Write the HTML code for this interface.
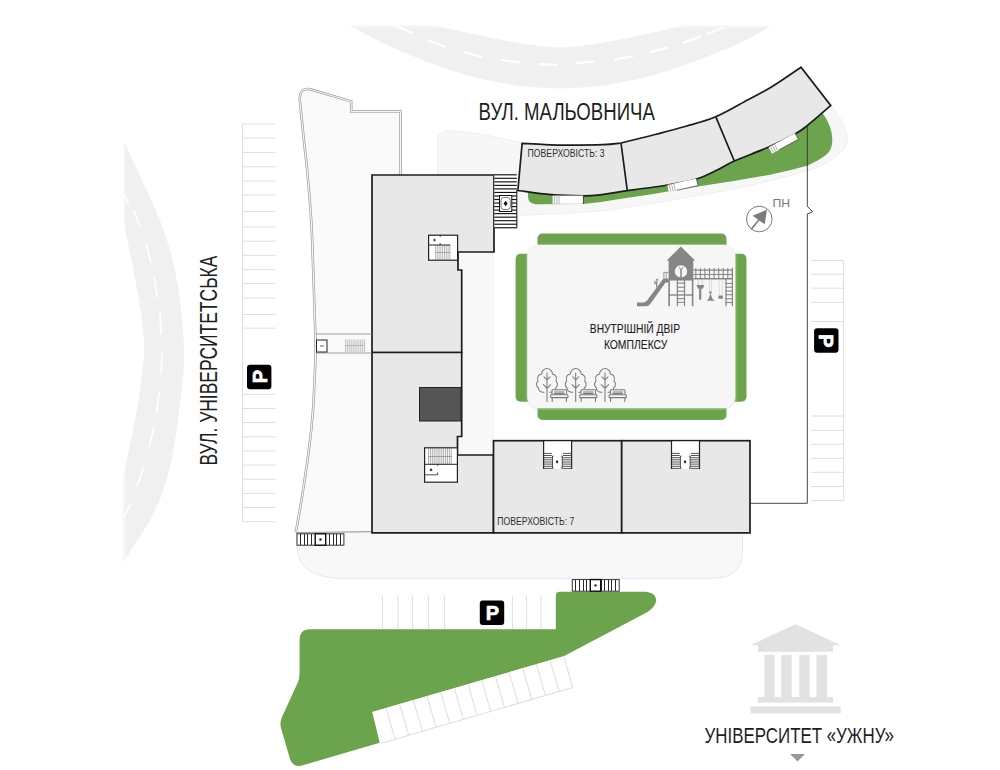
<!DOCTYPE html>
<html lang="uk"><head><meta charset="utf-8"><title>План комплексу</title>
<style>
html,body{margin:0;padding:0;background:#fff;}
body{width:1000px;height:770px;overflow:hidden;font-family:"Liberation Sans",sans-serif;}
svg{display:block}
text{font-family:"Liberation Sans",sans-serif;}
</style></head><body>
<svg width="1000" height="770" viewBox="0 0 1000 770">
<defs>
<filter id="soft" x="-5%" y="-5%" width="110%" height="110%"><feGaussianBlur stdDeviation="1.2"/></filter>
<filter id="soft2" x="-5%" y="-5%" width="110%" height="110%"><feGaussianBlur stdDeviation="0.6"/></filter>
<linearGradient id="fadeL" x1="0" x2="1" y1="0" y2="0"><stop offset="0" stop-color="#fff" stop-opacity="1"/><stop offset="1" stop-color="#fff" stop-opacity="0"/></linearGradient>
<linearGradient id="fadeT" x1="0" x2="0" y1="0" y2="1"><stop offset="0" stop-color="#fff" stop-opacity="1"/><stop offset="1" stop-color="#fff" stop-opacity="0"/></linearGradient>
</defs>
<rect width="1000" height="770" fill="#fff"/>

<g id="roads">
<path d="M123.7,141.4 C126.2,146.7 133.3,161.5 138.6,172.9 C143.9,184.3 150.5,197.2 155.7,210.0 C160.9,222.8 166.2,236.7 170.0,250.0 C173.8,263.3 176.4,276.7 178.6,290.0 C180.8,303.3 182.0,320.0 182.9,330.0 C183.8,340.0 183.9,343.3 184.0,350.0 C184.1,356.7 184.1,361.7 183.5,370.0 C182.9,378.3 181.8,390.0 180.6,400.0 C179.4,410.0 178.0,420.1 176.5,430.0 C175.0,439.9 174.1,448.9 171.7,459.5 C169.3,470.1 165.5,483.7 162.0,493.6 C158.5,503.5 154.9,511.3 150.8,519.0 C146.7,526.7 142.1,532.5 137.4,540.0 C132.7,547.5 124.9,560.0 122.4,564.0 L122.4,478 C123.2,474.9 125.1,467.5 126.9,459.5 C128.7,451.5 131.1,439.9 133.0,430.0 C134.9,420.1 137.0,410.0 138.6,400.0 C140.2,390.0 141.6,378.3 142.5,370.0 C143.4,361.7 144.5,359.1 144.3,350.0 C144.1,340.9 143.3,329.5 141.4,315.7 C139.5,301.9 135.8,282.3 132.9,267.0 C130.0,251.7 125.2,231.2 123.7,224.0 Z" fill="#f0f0f0"/>
<rect x="120" y="138" width="7" height="432" fill="url(#fadeL)"/>
<rect x="-5.0" y="-0.8" width="10" height="1.6" fill="#fff" transform="translate(126.5,199) rotate(-113)"/>
<rect x="-9.0" y="-0.8" width="18" height="1.6" fill="#fff" transform="translate(137,218.6) rotate(-110)"/>
<rect x="-10.0" y="-0.8" width="20" height="1.6" fill="#fff" transform="translate(148.6,252.9) rotate(-105)"/>
<rect x="-10.5" y="-0.8" width="21" height="1.6" fill="#fff" transform="translate(155.7,287) rotate(-99)"/>
<rect x="-11.0" y="-0.8" width="22" height="1.6" fill="#fff" transform="translate(160.5,323.5) rotate(-93)"/>
<rect x="-11.0" y="-0.8" width="22" height="1.6" fill="#fff" transform="translate(161.5,363.5) rotate(-88)"/>
<rect x="-11.0" y="-0.8" width="22" height="1.6" fill="#fff" transform="translate(158,402) rotate(-83)"/>
<rect x="-10.5" y="-0.8" width="21" height="1.6" fill="#fff" transform="translate(151.5,437.4) rotate(-76)"/>
<rect x="-10.0" y="-0.8" width="20" height="1.6" fill="#fff" transform="translate(140.2,477.2) rotate(-70)"/>
<rect x="-8.0" y="-0.8" width="16" height="1.6" fill="#fff" transform="translate(127.5,510) rotate(-64)"/>
<path d="M348.8,25 C354.7,28.1 370.8,37.4 384.0,43.6 C397.2,49.8 413.3,56.8 428.0,62.3 C442.7,67.8 457.3,72.8 472.0,76.6 C486.7,80.4 501.3,83.5 516.0,85.4 C530.7,87.3 545.3,88.2 560.0,88.2 C574.7,88.2 589.3,87.3 604.0,85.4 C618.7,83.5 633.3,80.4 648.0,76.6 C662.7,72.8 677.3,67.6 692.0,62.3 C706.7,57.0 722.8,50.8 736.0,44.7 C749.2,38.7 765.2,29.1 771.0,26.0 L685,25 C678.8,26.4 661.5,30.8 648.0,33.7 C634.5,36.6 618.7,40.2 604.0,42.5 C589.3,44.8 574.7,47.5 560.0,47.5 C545.3,47.5 530.7,44.8 516.0,42.5 C501.3,40.2 485.9,36.6 472.0,33.7 C458.1,30.8 439.0,26.4 432.4,25.0 Z" fill="#f0f0f0"/>
<rect x="345" y="22" width="430" height="7" fill="url(#fadeT)"/>
<rect x="-9.5" y="-1.1" width="19" height="2.2" fill="#fff" transform="translate(403.8,29.3) rotate(24)"/>
<rect x="-9.5" y="-1.1" width="19" height="2.2" fill="#fff" transform="translate(436.8,43.6) rotate(21)"/>
<rect x="-9.5" y="-1.1" width="19" height="2.2" fill="#fff" transform="translate(473,54.6) rotate(15)"/>
<rect x="-9.5" y="-1.1" width="19" height="2.2" fill="#fff" transform="translate(510.5,61.2) rotate(8)"/>
<rect x="-9.5" y="-1.1" width="19" height="2.2" fill="#fff" transform="translate(548,64.5) rotate(2)"/>
<rect x="-9.5" y="-1.1" width="19" height="2.2" fill="#fff" transform="translate(585.3,62.3) rotate(-5)"/>
<rect x="-9.5" y="-1.1" width="19" height="2.2" fill="#fff" transform="translate(623.8,57.9) rotate(-10)"/>
<rect x="-9.5" y="-1.1" width="19" height="2.2" fill="#fff" transform="translate(659,49.8) rotate(-16)"/>
<rect x="-9.5" y="-1.1" width="19" height="2.2" fill="#fff" transform="translate(692,39.6) rotate(-20)"/>
<rect x="-9.5" y="-1.1" width="19" height="2.2" fill="#fff" transform="translate(716,30.5) rotate(-22)"/>
</g>
<g id="zones">
<path d="M437.5,180 L437.5,142 Q437.5,131 448,131 C465,131 490,135 522,143 L621,150 L716,125 L801,80 L830.6,105.8 C836,110 843,122 847.5,135.7 C848,146 842,152 836.6,156 C825,165 812,170 803,172 C780,178.5 760,183.5 738,188 C710,193.5 685,198 660,202.3 C630,207 605,211 590,211.8 C565,213.5 540,214.5 518,215.4 L518,228 L494,228 L494,180 Z" fill="#f7f7f7" stroke="#ececec" stroke-width="0.8"/>
<path d="M299.8,100 Q299.5,86.5 311,89.5 L351.2,101.4 L351.2,111.6 L400.6,111.6 L400.6,176 L372,176 L372,532.5 L295.8,532.5 C296.9,526.2 300.0,509.6 302.3,495.0 C304.6,480.4 307.7,459.2 309.5,445.0 C311.3,430.8 312.1,422.5 313.0,410.0 C313.9,397.5 314.6,379.7 315.0,370.0 C315.4,360.3 315.6,358.2 315.6,352.0 C315.7,345.8 315.6,344.2 315.3,333.0 C315.0,321.8 314.2,301.3 313.7,285.0 C313.1,268.7 312.6,248.6 312.0,235.0 C311.4,221.4 310.8,214.1 310.0,203.2 C309.2,192.3 308.2,180.8 307.1,169.5 C306.0,158.2 304.6,147.3 303.4,135.7 C302.2,124.1 300.4,106.0 299.8,100.0 Z" fill="#fafafa"/>
<path d="M296.5,532.5 L742.5,532.5 L742.5,548 C742.5,570 735,578.3 708,578.3 L342,578.3 C312,578.3 298,566 297.2,548 Z" fill="#f8f8f8" stroke="#e4e4e4" stroke-width="0.9"/>
<rect x="458" y="252" width="35" height="203" fill="#f8f8f8"/><path d="M493,252 V441" stroke="#ededed" stroke-width="0.8"/>
</g>
<path d="M400.6,175 L400.6,111.6 L351.2,111.6 L351.2,101.4 L311,89.5 Q299.5,86.5 299.8,100 C300.4,106.0 302.2,124.1 303.4,135.7 C304.6,147.3 306.0,158.2 307.1,169.5 C308.2,180.8 309.2,192.3 310.0,203.2 C310.8,214.1 311.4,221.4 312.0,235.0 C312.6,248.6 313.1,268.7 313.7,285.0 C314.2,301.3 315.0,321.8 315.3,333.0 C315.6,344.2 315.7,345.8 315.6,352.0 C315.6,358.2 315.4,360.3 315.0,370.0 C314.6,379.7 313.9,397.5 313.0,410.0 C312.1,422.5 311.3,430.8 309.5,445.0 C307.7,459.2 304.6,480.4 302.3,495.0 C300.0,509.6 296.9,526.2 295.8,532.5" fill="none" stroke="#979797" stroke-width="2.5" stroke-linejoin="miter"/>
<path d="M400.6,175 L400.6,111.6 L351.2,111.6 L351.2,101.4 L311,89.5 Q299.5,86.5 299.8,100 C300.4,106.0 302.2,124.1 303.4,135.7 C304.6,147.3 306.0,158.2 307.1,169.5 C308.2,180.8 309.2,192.3 310.0,203.2 C310.8,214.1 311.4,221.4 312.0,235.0 C312.6,248.6 313.1,268.7 313.7,285.0 C314.2,301.3 315.0,321.8 315.3,333.0 C315.6,344.2 315.7,345.8 315.6,352.0 C315.6,358.2 315.4,360.3 315.0,370.0 C314.6,379.7 313.9,397.5 313.0,410.0 C312.1,422.5 311.3,430.8 309.5,445.0 C307.7,459.2 304.6,480.4 302.3,495.0 C300.0,509.6 296.9,526.2 295.8,532.5" fill="none" stroke="#f6f6f6" stroke-width="1.2" stroke-linejoin="miter"/>
<path d="M296,532.6 L372,531.6" stroke="#9a9a9a" stroke-width="1" fill="none"/>
<g id="parking" stroke="#dedede" stroke-width="1" fill="none">
<path d="M242.5,124 H275.5"/>
<path d="M242.5,138 H275.5"/>
<path d="M242.5,152.4 H275.5"/>
<path d="M242.5,166.7 H275.5"/>
<path d="M242.5,181 H275.5"/>
<path d="M242.5,195 H275.5"/>
<path d="M242.5,211.6 H275.5"/>
<path d="M242.5,226.9 H275.5"/>
<path d="M242.5,241.2 H275.5"/>
<path d="M242.5,255.3 H275.5"/>
<path d="M242.5,269.6 H275.5"/>
<path d="M242.5,283.6 H275.5"/>
<path d="M242.5,298 H275.5"/>
<path d="M242.5,314.5 H275.5"/>
<path d="M242.5,328.2 H275.5"/>
<path d="M242.5,394.3 H275.5"/>
<path d="M242.5,408.5 H275.5"/>
<path d="M242.5,422.6 H275.5"/>
<path d="M242.5,436.8 H275.5"/>
<path d="M242.5,450.9 H275.5"/>
<path d="M242.5,465.1 H275.5"/>
<path d="M242.5,479.2 H275.5"/>
<path d="M242.5,493.4 H275.5"/>
<path d="M242.5,507.5 H275.5"/>
<path d="M242.5,521.7 H275.5"/>
<path d="M242.5,124 V521.7"/>
<path d="M811,260.4 H843.6"/>
<path d="M811,274.2 H843.6"/>
<path d="M811,288.2 H843.6"/>
<path d="M811,302.4 H843.6"/>
<path d="M811,321.5 H843.6"/>
<path d="M811,416 H843.6"/>
<path d="M811,430.4 H843.6"/>
<path d="M811,444.3 H843.6"/>
<path d="M811,458.3 H843.6"/>
<path d="M811,472.3 H843.6"/>
<path d="M811,486.6 H843.6"/>
<path d="M811,500.5 H843.6"/>
<path d="M843.6,260.4 V500.5"/>
<path d="M382.4,595.5 V629.5"/>
<path d="M398,595.5 V629.5"/>
<path d="M412.4,595.5 V629.5"/>
<path d="M428.4,595.5 V629.5"/>
<path d="M444.4,595.5 V629.5"/>
<path d="M512.4,595.5 V629.5"/>
<path d="M526.6,595.5 V629.5"/>
<path d="M541,595.5 V629.5"/>
</g>
<path d="M310,629.3 L555.8,629.3 L555.8,596 Q555.8,591.7 560,591.7 L646,591.7 Q656.5,593 656.2,601 Q655,607 647.6,612 L563.7,656.3 L372.3,712 L379.7,742.8 L302,765.5 Q293,767.5 290,759 L281,728 Q279.5,723 282,717 L298,682 Q299.6,678 299.6,672 L299.6,640 Q299.6,629.3 310,629.3 Z" fill="#6ca44d"/>
<g transform="translate(372.3,712) rotate(-16.226)">
<rect x="0" y="0" width="199.34" height="32.5" fill="#fff"/>
<path d="M14.24,0 V32.5" stroke="#dedede" stroke-width="1"/>
<path d="M28.48,0 V32.5" stroke="#dedede" stroke-width="1"/>
<path d="M42.72,0 V32.5" stroke="#dedede" stroke-width="1"/>
<path d="M56.95,0 V32.5" stroke="#dedede" stroke-width="1"/>
<path d="M71.19,0 V32.5" stroke="#dedede" stroke-width="1"/>
<path d="M85.43,0 V32.5" stroke="#dedede" stroke-width="1"/>
<path d="M99.67,0 V32.5" stroke="#dedede" stroke-width="1"/>
<path d="M113.91,0 V32.5" stroke="#dedede" stroke-width="1"/>
<path d="M128.15,0 V32.5" stroke="#dedede" stroke-width="1"/>
<path d="M142.39,0 V32.5" stroke="#dedede" stroke-width="1"/>
<path d="M156.62,0 V32.5" stroke="#dedede" stroke-width="1"/>
<path d="M170.86,0 V32.5" stroke="#dedede" stroke-width="1"/>
<path d="M185.10,0 V32.5" stroke="#dedede" stroke-width="1"/>
<path d="M199.34,0 V32.5" stroke="#dedede" stroke-width="1"/>
<path d="M0,32.5 H199.34" stroke="#dedede" stroke-width="1"/>
</g>
<g id="court">
<rect x="537.5" y="233.5" width="189" height="22" rx="5" fill="#6ca44d"/>
<rect x="537.5" y="398" width="189" height="22" rx="5" fill="#6ca44d"/>
<rect x="515.6" y="253.8" width="22" height="148" rx="5" fill="#6ca44d"/>
<rect x="724.5" y="253.8" width="22" height="148" rx="5" fill="#6ca44d"/>
<rect x="527.3" y="245.5" width="208" height="163" rx="11" fill="#dcdcdc" filter="url(#soft)"/>
<rect x="527.3" y="244.7" width="208" height="163.3" rx="11" fill="#f6f6f6"/>
</g>
<path d="M528,192 L551,194 L600,194 L627.3,190 L697.4,178 L734.3,160.5 L796.3,132.5 L822.5,113 C829,122 832.3,131 832.3,140 C832.3,148 829.5,153 824,156.5 Q816,162 807.8,165.4 Q790,170.5 771,174.6 L735,180.8 L698,186.6 L650,194.4 L618,199.2 Q600,202.5 583.6,204.1 L536,204.2 Q528,204 528,196 Z" fill="#6ca44d"/>
<g id="bld" fill="#e8e8e8" stroke="#1c1c1c" stroke-width="1.7" stroke-linejoin="miter">
<path d="M372,175 L494,175 L494,252 L458,252 L458,270 L461.7,270 L461.7,352.5 L372,352.5 Z"/>
<path d="M372,352.5 L461.7,352.5 L461.7,436.5 L457.5,436.5 L457.5,455 L493.5,455 L493.5,532.9 L372,532.9 Z"/>
<rect x="493.5" y="440.7" width="128.2" height="92.2"/>
<rect x="621.7" y="440.7" width="128.3" height="92.2"/>
<path d="M522.1,143.3 C525.9,143.5 537.4,144.3 545.0,144.6 C552.6,144.9 558.3,145.1 568.0,145.1 C577.7,145.1 594.2,145.0 603.0,144.7 C611.8,144.3 618.0,143.3 621.0,143.0 C626.8,141.6 645.2,137.1 656.0,134.3 C666.8,131.5 675.9,129.2 685.9,126.3 C695.9,123.4 705.4,121.2 715.8,116.8 C726.1,112.4 738.8,104.7 748.0,99.8 C757.2,94.9 762.2,92.6 771.0,87.2 C779.8,81.8 796.0,70.5 801.0,67.2 L830.7,105.5 C826.9,108.8 813.5,120.5 807.8,125.1 C802.1,129.7 802.8,129.5 796.3,133.2 C789.8,136.8 779.0,142.4 768.7,147.0 C758.4,151.6 743.1,157.1 734.3,161.0 C725.5,164.9 722.1,167.7 716.0,170.6 C709.9,173.5 705.5,176.3 697.4,178.7 C689.3,181.1 679.2,183.0 667.5,185.0 C655.8,187.0 634.0,189.7 627.3,190.6 C622.8,191.3 607.3,193.9 600.0,194.8 C592.7,195.7 591.5,195.8 583.4,195.8 C575.3,195.8 562.1,195.6 551.2,194.7 C540.3,193.8 523.5,191.2 517.9,190.5 Z"/>
<path d="M621,143 L627.3,190.6 M715.8,116.8 L734.3,161" fill="none"/>
</g>
<rect x="419.5" y="387.5" width="41.5" height="33.5" fill="#555" stroke="#222" stroke-width="1"/>
<path d="M807.3,125.5 L807.3,206.2 Q810,209.5 812.8,211.6 Q810,213 807.3,213.9 L807.3,503.3 L750,503.3" fill="none" stroke="#333" stroke-width="0.9"/>
<g id="stairs" stroke="#222" stroke-width="0.8" fill="none">
<rect x="494.3" y="175" width="22.5" height="52.7" fill="#fff" stroke="none"/>
<path d="M494.3,174.80 H516.8" stroke="#111" stroke-width="1.15"/>
<path d="M494.3,178.33 H516.8" stroke="#111" stroke-width="1.15"/>
<path d="M494.3,181.86 H516.8" stroke="#111" stroke-width="1.15"/>
<path d="M494.3,185.39 H516.8" stroke="#111" stroke-width="1.15"/>
<path d="M494.3,188.92 H516.8" stroke="#111" stroke-width="1.15"/>
<path d="M494.3,192.45 H516.8" stroke="#111" stroke-width="1.15"/>
<path d="M494.3,195.98 H516.8" stroke="#111" stroke-width="1.15"/>
<path d="M494.3,199.51 H516.8" stroke="#111" stroke-width="1.15"/>
<path d="M494.3,203.04 H516.8" stroke="#111" stroke-width="1.15"/>
<path d="M494.3,206.57 H516.8" stroke="#111" stroke-width="1.15"/>
<path d="M494.3,210.10 H516.8" stroke="#111" stroke-width="1.15"/>
<path d="M494.3,213.63 H516.8" stroke="#111" stroke-width="1.15"/>
<path d="M494.3,217.16 H516.8" stroke="#111" stroke-width="1.15"/>
<path d="M494.3,220.69 H516.8" stroke="#111" stroke-width="1.15"/>
<path d="M494.3,224.22 H516.8" stroke="#111" stroke-width="1.15"/>
<path d="M494.3,227.75 H516.8" stroke="#111" stroke-width="1.15"/>
<path d="M516.8,190 V227.7" stroke="#111" stroke-width="1"/>
<rect x="499.5" y="195.5" width="12.3" height="16" fill="#fff" stroke="#111" stroke-width="1"/>
<rect x="501" y="197.5" width="9.3" height="12" rx="3" fill="#fff" stroke-width="0.6"/>
<path d="M505.6,200.8 L507.6,203.5 L505.6,206.2 L503.6,203.5 Z" fill="#111" stroke="none"/>
<rect x="297" y="533.8" width="46.89999999999998" height="11.400000000000091" fill="#fff" stroke="#333" stroke-width="1"/>
<path d="M300.61,533.8 V545.2" stroke="#2a2a2a" stroke-width="1" shape-rendering="crispEdges"/>
<path d="M304.22,533.8 V545.2" stroke="#2a2a2a" stroke-width="1" shape-rendering="crispEdges"/>
<path d="M307.82,533.8 V545.2" stroke="#2a2a2a" stroke-width="1" shape-rendering="crispEdges"/>
<path d="M311.43,533.8 V545.2" stroke="#2a2a2a" stroke-width="1" shape-rendering="crispEdges"/>
<path d="M315.04,533.8 V545.2" stroke="#2a2a2a" stroke-width="1" shape-rendering="crispEdges"/>
<path d="M318.65,533.8 V545.2" stroke="#2a2a2a" stroke-width="1" shape-rendering="crispEdges"/>
<path d="M322.25,533.8 V545.2" stroke="#2a2a2a" stroke-width="1" shape-rendering="crispEdges"/>
<path d="M325.86,533.8 V545.2" stroke="#2a2a2a" stroke-width="1" shape-rendering="crispEdges"/>
<path d="M329.47,533.8 V545.2" stroke="#2a2a2a" stroke-width="1" shape-rendering="crispEdges"/>
<path d="M333.08,533.8 V545.2" stroke="#2a2a2a" stroke-width="1" shape-rendering="crispEdges"/>
<path d="M336.68,533.8 V545.2" stroke="#2a2a2a" stroke-width="1" shape-rendering="crispEdges"/>
<path d="M340.29,533.8 V545.2" stroke="#2a2a2a" stroke-width="1" shape-rendering="crispEdges"/>
<rect x="315.2" y="533.8" width="10.5" height="11.400000000000091" fill="#fff" stroke="#111" stroke-width="1.4"/>
<circle cx="320.45" cy="539.5" r="1.2" fill="#222" stroke="none"/>
<rect x="572.3" y="579.6" width="46.90000000000009" height="11.600000000000023" fill="#fff" stroke="#333" stroke-width="1"/>
<path d="M575.91,579.6 V591.2" stroke="#2a2a2a" stroke-width="1" shape-rendering="crispEdges"/>
<path d="M579.52,579.6 V591.2" stroke="#2a2a2a" stroke-width="1" shape-rendering="crispEdges"/>
<path d="M583.12,579.6 V591.2" stroke="#2a2a2a" stroke-width="1" shape-rendering="crispEdges"/>
<path d="M586.73,579.6 V591.2" stroke="#2a2a2a" stroke-width="1" shape-rendering="crispEdges"/>
<path d="M590.34,579.6 V591.2" stroke="#2a2a2a" stroke-width="1" shape-rendering="crispEdges"/>
<path d="M593.95,579.6 V591.2" stroke="#2a2a2a" stroke-width="1" shape-rendering="crispEdges"/>
<path d="M597.55,579.6 V591.2" stroke="#2a2a2a" stroke-width="1" shape-rendering="crispEdges"/>
<path d="M601.16,579.6 V591.2" stroke="#2a2a2a" stroke-width="1" shape-rendering="crispEdges"/>
<path d="M604.77,579.6 V591.2" stroke="#2a2a2a" stroke-width="1" shape-rendering="crispEdges"/>
<path d="M608.38,579.6 V591.2" stroke="#2a2a2a" stroke-width="1" shape-rendering="crispEdges"/>
<path d="M611.98,579.6 V591.2" stroke="#2a2a2a" stroke-width="1" shape-rendering="crispEdges"/>
<path d="M615.59,579.6 V591.2" stroke="#2a2a2a" stroke-width="1" shape-rendering="crispEdges"/>
<rect x="590.3" y="579.6" width="10.400000000000091" height="11.600000000000023" fill="#fff" stroke="#111" stroke-width="1.4"/>
<circle cx="595.5" cy="585.4000000000001" r="1.2" fill="#222" stroke="none"/>
<rect x="428.6" y="235.2" width="29" height="25" fill="#fff" stroke-width="1.2"/>
<path d="M435.50,245 V260" stroke="#888" stroke-width="0.6"/>
<path d="M437.30,245 V260" stroke="#888" stroke-width="0.6"/>
<path d="M439.10,245 V260" stroke="#888" stroke-width="0.6"/>
<path d="M440.90,245 V260" stroke="#888" stroke-width="0.6"/>
<path d="M442.70,245 V260" stroke="#888" stroke-width="0.6"/>
<path d="M444.50,245 V260" stroke="#888" stroke-width="0.6"/>
<path d="M446.30,245 V260" stroke="#888" stroke-width="0.6"/>
<path d="M448.10,245 V260" stroke="#888" stroke-width="0.6"/>
<path d="M449.90,245 V260" stroke="#888" stroke-width="0.6"/>
<path d="M428.6,245 H450.2" stroke-width="1"/><path d="M435.5,252.5 H450.2" stroke="#888" stroke-width="0.6"/>
<ellipse cx="434.5" cy="240" rx="1.1" ry="1.5" fill="#444" stroke="none"/>
<path d="M440.2,235 V237 M440.2,243 V245"/>
<rect x="424.6" y="447.8" width="32.8" height="34.4" fill="#fff" stroke-width="1.2"/>
<path d="M428.50,448 V464.3" stroke="#777" stroke-width="0.6"/>
<path d="M430.40,448 V464.3" stroke="#777" stroke-width="0.6"/>
<path d="M432.30,448 V464.3" stroke="#777" stroke-width="0.6"/>
<path d="M434.20,448 V464.3" stroke="#777" stroke-width="0.6"/>
<path d="M436.10,448 V464.3" stroke="#777" stroke-width="0.6"/>
<path d="M438.00,448 V464.3" stroke="#777" stroke-width="0.6"/>
<path d="M439.90,448 V464.3" stroke="#777" stroke-width="0.6"/>
<path d="M441.80,448 V464.3" stroke="#777" stroke-width="0.6"/>
<path d="M443.70,448 V464.3" stroke="#777" stroke-width="0.6"/>
<path d="M445.60,448 V464.3" stroke="#777" stroke-width="0.6"/>
<path d="M447.50,448 V464.3" stroke="#777" stroke-width="0.6"/>
<path d="M449.40,448 V464.3" stroke="#777" stroke-width="0.6"/>
<path d="M451.30,448 V464.3" stroke="#777" stroke-width="0.6"/>
<path d="M424.6,464.3 H457.4" stroke-width="1"/><path d="M428.5,456.5 H451.7" stroke="#777" stroke-width="0.6"/>
<circle cx="431" cy="469.9" r="1.3" fill="#444" stroke="none"/>
<path d="M424.6,474.8 H437.7 V472.5 M437.7,464.3 V466"/>
<path d="M316,334 H372 M316,353 H372" stroke="#888" stroke-width="0.8"/>
<rect x="316.5" y="340" width="10.5" height="12" fill="#fff" stroke-width="1"/>
<circle cx="321" cy="346" r="0.7" fill="#222" stroke="none"/><circle cx="323" cy="346" r="0.7" fill="#222" stroke="none"/>
<path d="M345.50,339.5 V352" stroke="#999" stroke-width="0.6"/>
<path d="M347.40,339.5 V352" stroke="#999" stroke-width="0.6"/>
<path d="M349.30,339.5 V352" stroke="#999" stroke-width="0.6"/>
<path d="M351.20,339.5 V352" stroke="#999" stroke-width="0.6"/>
<path d="M353.10,339.5 V352" stroke="#999" stroke-width="0.6"/>
<path d="M355.00,339.5 V352" stroke="#999" stroke-width="0.6"/>
<path d="M356.90,339.5 V352" stroke="#999" stroke-width="0.6"/>
<path d="M358.80,339.5 V352" stroke="#999" stroke-width="0.6"/>
<path d="M360.70,339.5 V352" stroke="#999" stroke-width="0.6"/>
<path d="M362.60,339.5 V352" stroke="#999" stroke-width="0.6"/>
<path d="M364.50,339.5 V352" stroke="#999" stroke-width="0.6"/>
<path d="M345.5,345.5 H364.5" stroke="#999" stroke-width="0.6"/>
<rect x="543.6" y="441.4" width="28" height="27.6" fill="#fff" stroke="none"/>
<path d="M543.6,441 V469 M571.6,441 V469" stroke-width="1.2"/>
<path d="M543.6,453.4 H551.8000000000001 M563.0,453.4 H571.6" stroke="#4a4a4a" stroke-width="0.95"/>
<path d="M543.6,455.5 H551.8000000000001 M563.0,455.5 H571.6" stroke="#4a4a4a" stroke-width="0.95"/>
<path d="M543.6,457.7 H551.8000000000001 M563.0,457.7 H571.6" stroke="#4a4a4a" stroke-width="0.95"/>
<path d="M543.6,459.8 H551.8000000000001 M563.0,459.8 H571.6" stroke="#4a4a4a" stroke-width="0.95"/>
<path d="M543.6,462.0 H551.8000000000001 M563.0,462.0 H571.6" stroke="#4a4a4a" stroke-width="0.95"/>
<path d="M543.6,464.1 H551.8000000000001 M563.0,464.1 H571.6" stroke="#4a4a4a" stroke-width="0.95"/>
<path d="M543.6,466.3 H551.8000000000001 M563.0,466.3 H571.6" stroke="#4a4a4a" stroke-width="0.95"/>
<path d="M543.6,468.4 H551.8000000000001 M563.0,468.4 H571.6" stroke="#4a4a4a" stroke-width="0.95"/>
<path d="M553.6,456.2 H552.4 V468.3 H553.6 M561.1,456.2 H562.3000000000001 V468.3 H561.1" stroke-width="0.9"/>
<ellipse cx="557.1" cy="461.8" rx="1.1" ry="1.5" fill="#222" stroke="none"/>
<rect x="671.5" y="441.4" width="28" height="27.6" fill="#fff" stroke="none"/>
<path d="M671.5,441 V469 M699.5,441 V469" stroke-width="1.2"/>
<path d="M671.5,453.4 H679.7 M690.9,453.4 H699.5" stroke="#4a4a4a" stroke-width="0.95"/>
<path d="M671.5,455.5 H679.7 M690.9,455.5 H699.5" stroke="#4a4a4a" stroke-width="0.95"/>
<path d="M671.5,457.7 H679.7 M690.9,457.7 H699.5" stroke="#4a4a4a" stroke-width="0.95"/>
<path d="M671.5,459.8 H679.7 M690.9,459.8 H699.5" stroke="#4a4a4a" stroke-width="0.95"/>
<path d="M671.5,462.0 H679.7 M690.9,462.0 H699.5" stroke="#4a4a4a" stroke-width="0.95"/>
<path d="M671.5,464.1 H679.7 M690.9,464.1 H699.5" stroke="#4a4a4a" stroke-width="0.95"/>
<path d="M671.5,466.3 H679.7 M690.9,466.3 H699.5" stroke="#4a4a4a" stroke-width="0.95"/>
<path d="M671.5,468.4 H679.7 M690.9,468.4 H699.5" stroke="#4a4a4a" stroke-width="0.95"/>
<path d="M681.5,456.2 H680.3 V468.3 H681.5 M689.0,456.2 H690.2 V468.3 H689.0" stroke-width="0.9"/>
<ellipse cx="685.0" cy="461.8" rx="1.1" ry="1.5" fill="#222" stroke="none"/>
</g>
<g id="entr">
<rect x="552.6" y="195.6" width="30.8" height="8.2" fill="#fff"/>
<path d="M554.5,195.6 V203.8 M556.8,195.6 V203.8 M559,195.6 V203.8" stroke="#999" stroke-width="0.7"/><path d="M583.4,195.5 V204" stroke="#222" stroke-width="0.8"/>
<g transform="translate(667.3,184.9) rotate(-12.4)"><rect x="0" y="0" width="29.8" height="7.3" fill="#fff"/><path d="M2,0 V7.3 M4.3,0 V7.3 M6.6,0 V7.3" stroke="#999" stroke-width="0.7"/><path d="M29.8,0 V7.3 H8" stroke="#333" stroke-width="0.6" fill="none"/></g>
<g transform="translate(768.6,147.3) rotate(-28.4)"><rect x="0" y="0" width="30" height="7.2" fill="#fff"/><path d="M2,0 V7.2 M4.3,0 V7.2 M6.6,0 V7.2" stroke="#999" stroke-width="0.7"/><path d="M30,0 V7.2 H8" stroke="#333" stroke-width="0.6" fill="none"/></g>
</g>
<g id="compass"><circle cx="759.3" cy="219" r="12.8" fill="none" stroke="#777" stroke-width="1"/>
<path d="M751.2,229.2 L759.2,219.6" stroke="#777" stroke-width="1.5"/><path d="M767,209.8 L752.6,215.7 L764.7,224.2 Z" fill="#7a7a7a"/></g>
<text x="772.4" y="207.3" font-size="11.8" fill="#777" textLength="17.6" lengthAdjust="spacingAndGlyphs">ПН</text>
<g transform="translate(259.2,377) rotate(-90)"><rect x="-12.2" y="-12.2" width="24.4" height="24.4" rx="3" fill="#000"/><text x="0.3" y="7.3" font-size="20" font-weight="bold" fill="#fff" stroke="#fff" stroke-width="0.7" stroke-linejoin="round" text-anchor="middle">P</text></g>
<g transform="translate(826.3,340.5) rotate(90)"><rect x="-12.2" y="-12.2" width="24.4" height="24.4" rx="3" fill="#000"/><text x="0.3" y="7.3" font-size="20" font-weight="bold" fill="#fff" stroke="#fff" stroke-width="0.7" stroke-linejoin="round" text-anchor="middle">P</text></g>
<g transform="translate(492,612.8) rotate(0)"><rect x="-12.2" y="-12.2" width="24.4" height="24.4" rx="3" fill="#000"/><text x="0.3" y="7.3" font-size="20" font-weight="bold" fill="#fff" stroke="#fff" stroke-width="0.7" stroke-linejoin="round" text-anchor="middle">P</text></g>
<g id="play" fill="#868686" stroke="none">
<path d="M680.8,246.6 L695.2,260.6 L693.3,260.6 L693.3,280.5 L668.6,280.5 L668.6,260.6 L666.6,260.6 Z"/>
<circle cx="681" cy="271.4" r="6.2" fill="#f6f6f6"/>
<path d="M680.3,268.8 h1.5 v11.5 h-1.5z"/><path d="M678.9,267 l1.9,2.4 M683.2,267 l-1.9,2.4" stroke="#868686" stroke-width="0.9" fill="none"/>
<rect x="668.3" y="280" width="1.6" height="26.2"/><rect x="691.8" y="280" width="1.6" height="26.2"/><rect x="668.3" y="294.3" width="25" height="1.4"/>
<rect x="676.8" y="280" width="1.2" height="26.2"/><rect x="683.9" y="280" width="1.2" height="26.2"/>
<rect x="676.8" y="282.55" width="8.3" height="1.1"/>
<rect x="676.8" y="286.65" width="8.3" height="1.1"/>
<rect x="676.8" y="290.65" width="8.3" height="1.1"/>
<rect x="676.8" y="298.05" width="8.3" height="1.1"/>
<rect x="676.8" y="301.75" width="8.3" height="1.1"/>
<path d="M668.6,278.4 L663.4,278.4 L647.2,300.2 Q645.6,302.5 643,302.5 L637,302.5 L637,306.2 L645.8,306.2 Q648.6,306.2 650.3,304 L665.6,282.4 L668.6,282.4 Z"/>
<path d="M663.5,272.4 h5.2 M663.9,272.4 v6.2 M666.2,272.4 v6.2" stroke="#868686" stroke-width="0.8" fill="none"/>
<circle cx="657.2" cy="279.8" r="1.05"/><path d="M657,280.8 L656.4,287.5 M656.9,282.6 L655,283.6 L654.8,280.8" stroke="#868686" stroke-width="1.1" fill="none"/>
<g stroke="#868686" fill="none">
<path d="M693.3,270.1 H733 M693.3,274.5 H733" stroke-width="1.1"/><path d="M693.3,278.8 H733" stroke-width="1.5"/>
<path d="M695.8,267.9 V279" stroke-width="1.1"/>
<path d="M700.4,267.9 V279" stroke-width="1.1"/>
<path d="M704.9,267.9 V279" stroke-width="1.1"/>
<path d="M709.5,267.9 V279" stroke-width="1.1"/>
<path d="M714.1,267.9 V279" stroke-width="1.1"/>
<path d="M718.7,267.9 V279" stroke-width="1.1"/>
<path d="M723.2,267.9 V279" stroke-width="1.1"/>
<path d="M727.8,267.9 V279" stroke-width="1.1"/>
<path d="M732.4,267.9 V279" stroke-width="1.1"/>
</g>
<rect x="725.4" y="279" width="1.2" height="27.2"/><rect x="731.8" y="267.9" width="1.2" height="38.3"/>
<rect x="725.4" y="282.95" width="7.6" height="1.1"/>
<rect x="725.4" y="286.65" width="7.6" height="1.1"/>
<rect x="725.4" y="290.45" width="7.6" height="1.1"/>
<rect x="725.4" y="294.15" width="7.6" height="1.1"/>
<rect x="725.4" y="298.25" width="7.6" height="1.1"/>
<rect x="725.4" y="301.95" width="7.6" height="1.1"/>
<path d="M698.4,279.5 L698.2,285 M702,279.5 L702.2,285" stroke="#aaa" stroke-width="0.5" fill="none"/>
<path d="M696.4,285 h8.1 l-1.6,3.8 h-4.9z"/><rect x="699.1" y="288.6" width="2.2" height="11.1"/>
<path d="M709.4,279.5 V292 M711.4,279.5 V292 M719.2,279.5 V295.4 M722.2,279.5 V295.4" stroke="#bdbdbd" stroke-width="0.45" fill="none"/>
<circle cx="710.4" cy="292.6" r="1.25"/><path d="M710.4,293.2 L712.3,298.6 L714.8,300.7 L706.9,300.7 L708.7,298.6 Z"/>
<rect x="718.4" y="295.4" width="4.5" height="3.4" rx="0.7"/>
</g>
<g id="trees" fill="none" stroke="#7a7a7a" stroke-width="1.05" stroke-linecap="round" stroke-linejoin="round">
<path d="M550,392.2 C553,392.6 555.6,391 555.6,388 C558,386.5 558,382.5 556,381 C557.4,377.6 555.4,374.2 552.6,374.2 C552.2,370.8 549.6,368.4 547,368.4 C544.4,368.4 541.8,370.8 541.4,374.2 C538.6,374.2 536.6,377.6 538,381 C536,382.5 536,386.5 538.4,388 C538.4,391 541,392.6 544,392.2"/>
<path d="M547,373 V401.6 M544,376.8 L547,380 L550,376.8 M543.4,384.6 L547,388.4 L550.6,384.6"/>
<path d="M578.7,392.2 C581.7,392.6 584.3000000000001,391 584.3000000000001,388 C586.7,386.5 586.7,382.5 584.7,381 C586.1,377.6 584.1,374.2 581.3000000000001,374.2 C580.9000000000001,370.8 578.3000000000001,368.4 575.7,368.4 C573.1,368.4 570.5,370.8 570.1,374.2 C567.3000000000001,374.2 565.3000000000001,377.6 566.7,381 C564.7,382.5 564.7,386.5 567.1,388 C567.1,391 569.7,392.6 572.7,392.2"/>
<path d="M575.7,373 V401.6 M572.7,376.8 L575.7,380 L578.7,376.8 M572.1,384.6 L575.7,388.4 L579.3000000000001,384.6"/>
<path d="M608,392.2 C611,392.6 613.6,391 613.6,388 C616,386.5 616,382.5 614,381 C615.4,377.6 613.4,374.2 610.6,374.2 C610.2,370.8 607.6,368.4 605,368.4 C602.4,368.4 599.8,370.8 599.4,374.2 C596.6,374.2 594.6,377.6 596,381 C594,382.5 594,386.5 596.4,388 C596.4,391 599,392.6 602,392.2"/>
<path d="M605,373 V401.6 M602,376.8 L605,380 L608,376.8 M601.4,384.6 L605,388.4 L608.6,384.6"/>
<path d="M552.0,394.8 V390.6 Q552.0,389.7 553.0,389.7 H565.5999999999999 Q566.5999999999999,389.7 566.5999999999999,390.6 V394.8" fill="#f6f6f6"/>
<path d="M554.4,391.9 H564.1999999999999 M554.4,393.6 H564.1999999999999"/>
<path d="M550.8,397.6 Q550.0,394.8 552.0,394.8 H566.5999999999999 Q568.5999999999999,394.8 567.8,397.6 Z" fill="#f6f6f6"/>
<path d="M552.1999999999999,397.6 V401.4 M566.4,397.6 V401.4"/>
<path d="M581.0,394.8 V390.6 Q581.0,389.7 582.0,389.7 H594.5999999999999 Q595.5999999999999,389.7 595.5999999999999,390.6 V394.8" fill="#f6f6f6"/>
<path d="M583.4,391.9 H593.1999999999999 M583.4,393.6 H593.1999999999999"/>
<path d="M579.8,397.6 Q579.0,394.8 581.0,394.8 H595.5999999999999 Q597.5999999999999,394.8 596.8,397.6 Z" fill="#f6f6f6"/>
<path d="M581.1999999999999,397.6 V401.4 M595.4,397.6 V401.4"/>
<path d="M610.4,394.8 V390.6 Q610.4,389.7 611.4,389.7 H623.9999999999999 Q624.9999999999999,389.7 624.9999999999999,390.6 V394.8" fill="#f6f6f6"/>
<path d="M612.8,391.9 H622.5999999999999 M612.8,393.6 H622.5999999999999"/>
<path d="M609.1999999999999,397.6 Q608.4,394.8 610.4,394.8 H624.9999999999999 Q626.9999999999999,394.8 626.1999999999999,397.6 Z" fill="#f6f6f6"/>
<path d="M610.5999999999999,397.6 V401.4 M624.8,397.6 V401.4"/>
</g>
<g id="uni" fill="#e2e2e2">
<path d="M795.6,624.3 L840.7,645.2 L750.5,645.2 Z"/>
<rect x="758" y="645" width="75" height="6.8"/>
<rect x="764.4" y="655" width="10.4" height="42"/>
<rect x="781.3" y="655" width="10.4" height="42"/>
<rect x="799.2" y="655" width="10.4" height="42"/>
<rect x="816.5" y="655" width="10.4" height="42"/>
<rect x="757.8" y="697" width="75.2" height="5.6"/>
<rect x="750.5" y="706.4" width="90.2" height="7"/>
</g>
<path d="M790,754 L805,754 L797.5,761.4 Z" fill="#999"/>
<text x="478.6" y="119.6" font-size="23" fill="#1e1e1e" textLength="176.2" lengthAdjust="spacingAndGlyphs">ВУЛ. МАЛЬОВНИЧА</text>
<text x="527.6" y="156.8" font-size="10.8" fill="#2e2e2e" textLength="77" lengthAdjust="spacingAndGlyphs">ПОВЕРХОВІСТЬ: 3</text>
<text x="497.3" y="525.3" font-size="10.8" fill="#2e2e2e" textLength="77" lengthAdjust="spacingAndGlyphs">ПОВЕРХОВІСТЬ: 7</text>
<text x="589.8" y="333" font-size="12.4" fill="#1e1e1e" stroke="#1e1e1e" stroke-width="0.12" textLength="90.2" lengthAdjust="spacingAndGlyphs">ВНУТРІШНІЙ ДВІР</text>
<text x="603.9" y="349.2" font-size="12.4" fill="#1e1e1e" stroke="#1e1e1e" stroke-width="0.12" textLength="63.4" lengthAdjust="spacingAndGlyphs">КОМПЛЕКСУ</text>
<text transform="translate(216.7,465.6) rotate(-90)" x="0" y="0" font-size="23" fill="#1e1e1e" textLength="210" lengthAdjust="spacingAndGlyphs">ВУЛ. УНІВЕРСИТЕТСЬКА</text>
<text x="704.6" y="743.1" font-size="22.3" fill="#1e1e1e" textLength="189.4" lengthAdjust="spacingAndGlyphs">УНІВЕРСИТЕТ «УЖНУ»</text>
</svg></body></html>
